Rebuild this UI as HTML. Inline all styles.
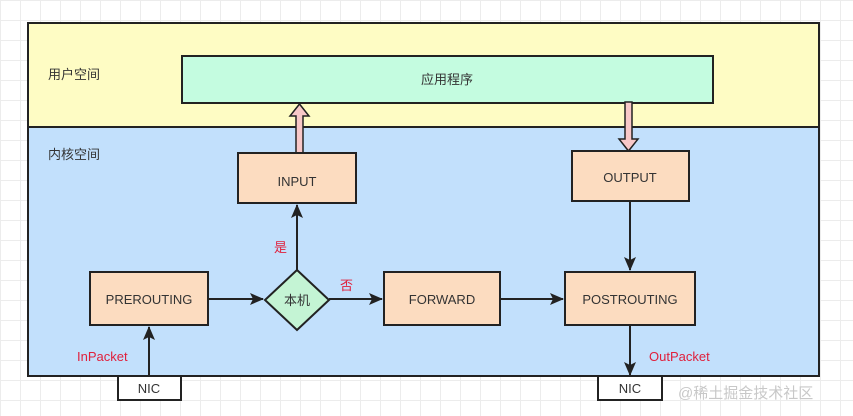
<!DOCTYPE html>
<html><head><meta charset="utf-8"><style>
body{margin:0;width:853px;height:416px;overflow:hidden;background:#fff;
background-image:linear-gradient(#ececec 1px,transparent 1px),linear-gradient(90deg,#ececec 1px,transparent 1px);background-size:20px 20px;
font-family:"Liberation Sans","Noto Sans CJK SC",sans-serif;}
</style></head><body>
<svg width="853" height="416" style="position:absolute;left:0;top:0" font-family="Liberation Sans, Noto Sans CJK SC, sans-serif">
<defs><marker id="a" markerWidth="14" markerHeight="12" refX="13" refY="6" orient="auto" markerUnits="userSpaceOnUse"><path d="M0,0 L14,6 L0,12 L3,6 z" fill="#222"/></marker></defs>
<rect x="28" y="23" width="791" height="104" fill="#fefcc4" stroke="#222" stroke-width="2"/>
<rect x="28" y="127" width="791" height="249" fill="#c2e0fc" stroke="#222" stroke-width="2"/>
<text x="48" y="79" font-size="13" fill="#333">用户空间</text>
<text x="48" y="159" font-size="13" fill="#333">内核空间</text>
<rect x="182" y="56" width="531" height="47" fill="#c4fce0" stroke="#222" stroke-width="2"/>
<text x="447" y="84" font-size="13" text-anchor="middle" fill="#333">应用程序</text>
<path d="M296,153 L296,116 L290,116 L299.5,104 L309,116 L303,116 L303,153 z" fill="#f8c8c8" stroke="#222" stroke-width="1.5"/>
<path d="M625,102 L625,139 L619,139 L628.5,151 L638,139 L632,139 L632,102 z" fill="#f8c8c8" stroke="#222" stroke-width="1.5"/>
<g fill="#fcdcc0" stroke="#222" stroke-width="2">
<rect x="238" y="153" width="118" height="50"/>
<rect x="572" y="151" width="117" height="50"/>
<rect x="90" y="272" width="118" height="53"/>
<rect x="384" y="272" width="116" height="53"/>
<rect x="565" y="272" width="130" height="53"/>
<rect x="118" y="376" width="63" height="24" fill="#fff"/>
<rect x="598" y="376" width="64" height="24" fill="#fff"/>
</g>
<path d="M297,270 L329,300 L297,330 L265,300 z" fill="#c4f4d4" stroke="#222" stroke-width="2"/>
<g font-size="13" fill="#333" text-anchor="middle">
<text x="297" y="186">INPUT</text>
<text x="630" y="182">OUTPUT</text>
<text x="149" y="304">PREROUTING</text>
<text x="442" y="304">FORWARD</text>
<text x="630" y="304">POSTROUTING</text>
<text x="297" y="305">本机</text>
<text x="149" y="393">NIC</text>
<text x="630" y="393">NIC</text>
</g>
<g stroke="#222" stroke-width="2" fill="none" marker-end="url(#a)">
<line x1="297" y1="270" x2="297" y2="205"/>
<line x1="208" y1="299" x2="263" y2="299"/>
<line x1="329" y1="299" x2="382" y2="299"/>
<line x1="500" y1="299" x2="563" y2="299"/>
<line x1="630" y1="201" x2="630" y2="270"/>
<line x1="149" y1="376" x2="149" y2="327"/>
<line x1="630" y1="325" x2="630" y2="375"/>
</g>
<g font-size="13" fill="#e0203c">
<text x="274" y="252">是</text>
<text x="340" y="290">否</text>
<text x="77" y="361">InPacket</text>
<text x="649" y="361">OutPacket</text>
</g>
<text x="678" y="398" font-size="15" fill="#c8c8c8">@稀土掘金技术社区</text>
</svg>
</body></html>
